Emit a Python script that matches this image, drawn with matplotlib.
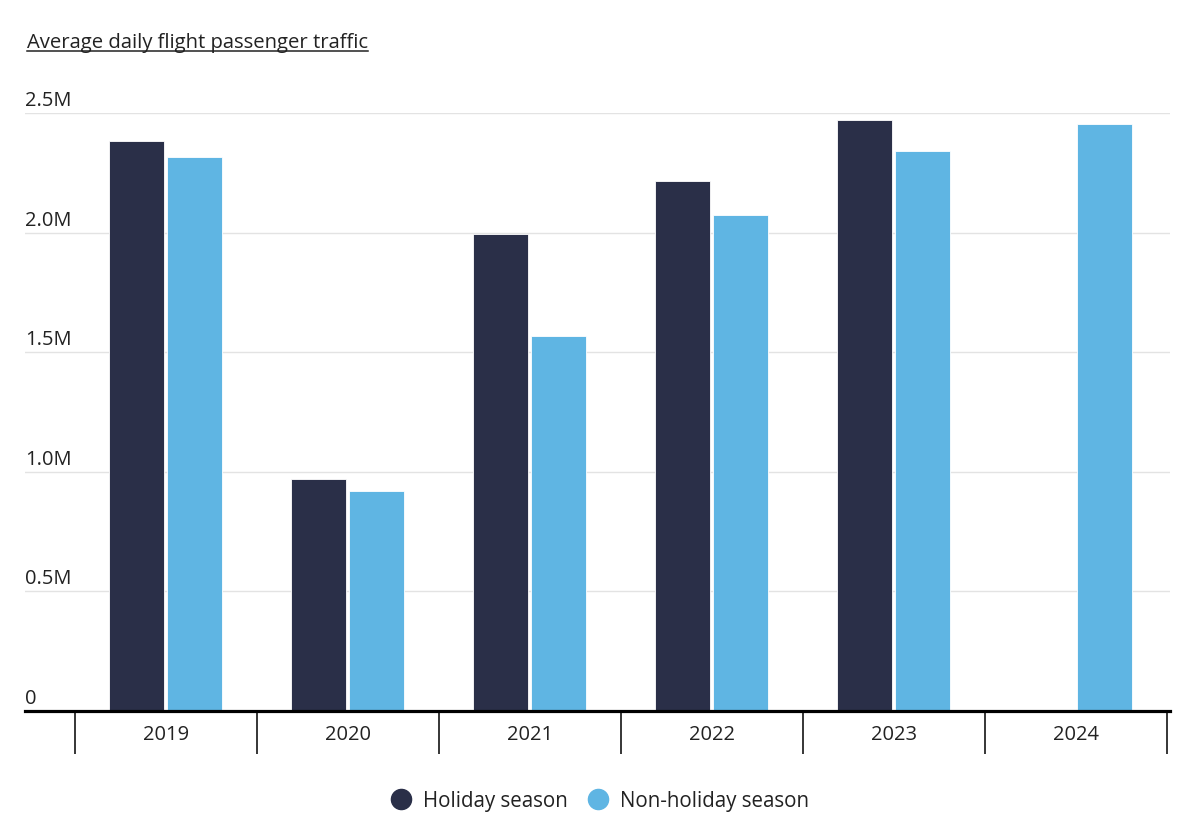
import matplotlib
matplotlib.use("Agg")
import matplotlib.pyplot as plt
from matplotlib.lines import Line2D
import numpy as np

years = ["2019", "2020", "2021", "2022", "2023", "2024"]
holiday = [2.384e6, 0.969e6, 1.996e6, 2.217e6, 2.472e6, np.nan]
non_holiday = [2.317e6, 0.918e6, 1.566e6, 2.075e6, 2.342e6, 2.455e6]
y_ticks = [0, 0.5e6, 1.0e6, 1.5e6, 2.0e6, 2.5e6]
y_labels = ["0", "0.5M", "1.0M", "1.5M", "2.0M", "2.5M"]

DARK = "#2a2f48"
LIGHT = "#5fb5e3"
TEXT = "#222222"

plt.rcParams["font.family"] = ["Open Sans", "DejaVu Sans"]

fig = plt.figure(figsize=(12, 8.38), dpi=100)
ax = fig.add_axes([25 / 1200, 1 - 711 / 838, (1170 - 25) / 1200, (711 - 113) / 838])

x = np.arange(len(years))
w = 0.305
ax.bar(x - 0.162, holiday, w, color=DARK, edgecolor="white", linewidth=0.6, zorder=3)
ax.bar(x + 0.157, non_holiday, w, color=LIGHT, edgecolor="white", linewidth=0.6, zorder=3)

ax.set_xlim(-0.775, 5.516)
ax.set_ylim(0, 2.5e6)

for s in ["top", "right", "left"]:
    ax.spines[s].set_visible(False)
ax.spines["bottom"].set_linewidth(2.3)
ax.spines["bottom"].set_color("black")
ax.spines["bottom"].set_zorder(4)

# y labels sit just above their grid lines, flush left
ax.set_yticks(y_ticks)
ax.set_yticklabels([])
ax.tick_params(axis="y", length=0)
ax.grid(axis="y", color="#e3e3e3", linewidth=1, zorder=0)
for v, lab in zip(y_ticks, y_labels):
    ax.text(0.0, v + 0.008e6, lab, transform=ax.get_yaxis_transform(),
            ha="left", va="bottom", fontsize=14.5, color=TEXT)

ax.set_xticks(x)
ax.set_xticklabels(years, fontsize=14.5, color=TEXT)
ax.tick_params(axis="x", which="major", length=0, pad=10)
ax.set_xticks(np.arange(-0.5, len(years)), minor=True)
ax.tick_params(axis="x", which="minor", length=31, width=1.1, color="black")

handles = [
    Line2D([], [], marker="o", linestyle="none", markersize=14.5, color=DARK),
    Line2D([], [], marker="o", linestyle="none", markersize=14.5, color=LIGHT),
]
fig.legend(handles, ["Holiday season", "Non-holiday season"], loc="center",
           bbox_to_anchor=(0.5, 1 - 801 / 838), ncol=2, frameon=False,
           fontsize=14.8, handlelength=1.0, handletextpad=0.55, columnspacing=1.0,
           labelcolor=TEXT)

title = fig.text(27 / 1200, 1 - 43 / 838, "Average daily flight passenger traffic",
                 ha="left", va="center", fontsize=14.6, color=TEXT)
fig.canvas.draw()
bb = title.get_window_extent().transformed(fig.transFigure.inverted())
uy = bb.y0 + 0.002
fig.add_artist(Line2D([bb.x0, bb.x1], [uy, uy], color=TEXT, linewidth=1.1,
                      transform=fig.transFigure))

fig.savefig("out.png", dpi=100, facecolor="white")
